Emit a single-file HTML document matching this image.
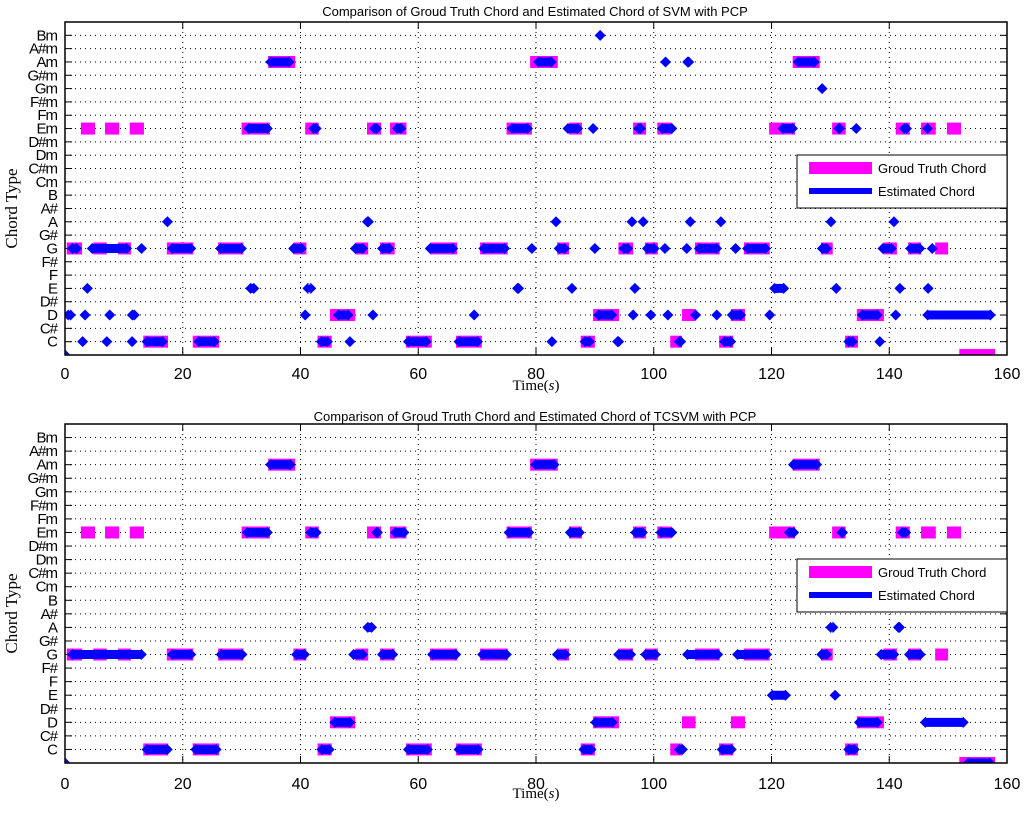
<!DOCTYPE html>
<html><head><meta charset="utf-8"><style>
html,body{margin:0;padding:0;background:#fff;}
svg{display:block;}
</style></head><body>
<svg id="chart" width="1024" height="813" viewBox="0 0 1024 813" xmlns="http://www.w3.org/2000/svg" font-family="Liberation Sans, sans-serif"></svg>
<script>
const chordLabels = ["","C","C#","D","D#","E","F","F#","G","G#","A","A#","B","Cm","C#m","Dm","D#m","Em","Fm","F#m","Gm","G#m","Am","A#m","Bm"];
const xTicks = [0,20,40,60,80,100,120,140,160];
const plotTitles = ["Comparison of Groud Truth Chord and Estimated Chord of SVM with PCP","Comparison of Groud Truth Chord and Estimated Chord of TCSVM with PCP"];
const groundTruth = [
[22,34.5,39.1],[22,79,83.7],[22,123.6,128.2],
[17,2.7,5.1],[17,6.8,9.2],[17,11,13.4],[17,30,34.8],[17,40.8,43.1],[17,51.3,53.7],[17,55.2,58],[17,75,79.3],[17,85.6,87.8],[17,96.5,98.7],[17,100.6,103],[17,119.6,124],[17,130.3,132.6],[17,141.1,143.5],[17,145.4,147.9],[17,149.8,152.2],
[8,0.3,2.9],[8,4.8,7.1],[8,9,11.2],[8,17.3,21.8],[8,26,30.3],[8,38.8,41],[8,49.3,51.5],[8,53.5,56],[8,62,66.6],[8,70.5,75.2],[8,83.6,85.6],[8,94,96.5],[8,98.5,100.7],[8,107,111.2],[8,115.3,119.7],[8,128.4,130.4],[8,139,141.3],[8,143.2,145.4],[8,147.8,150],
[3,45,49.3],[3,89.7,94.1],[3,104.8,107.1],[3,113.1,115.5],[3,134.5,139.1],
[1,13.3,17.5],[1,21.7,26.2],[1,42.9,45.3],[1,57.9,62.3],[1,66.4,70.8],[1,87.6,90],[1,102.8,104.8],[1,111.1,113.5],[1,132.5,134.7],
[0,151.9,158]];
const svmEstimate = [
[24,90.9,90.9],
[22,34,39],[22,79.5,83.5],[22,102,102],[22,105,106.7],[22,123.6,128.2],
[20,128.6,128.6],
[17,30.3,35.3],[17,41.3,43.6],[17,52,53.5],[17,55.5,58],[17,75,79.5],[17,84.5,88],[17,89.7,89.7],[17,96.5,98.7],[17,100.5,104],[17,121,124.5],[17,130.5,132.5],[17,134.4,134.4],[17,142,143.5],[17,146.5,146.5],
[10,17.4,17.4],[10,50.6,52.3],[10,83.4,83.4],[10,96.3,96.3],[10,98.2,98.2],[10,105.6,106.8],[10,111.4,111.4],[10,130.1,130.1],[10,140.3,141.3],
[8,0.3,2.9],[8,3.7,11.4],[8,12.4,13.6],[8,17.3,22.3],[8,25.5,30.9],[8,37.9,41.1],[8,48.4,51.5],[8,53,56],[8,61.1,66.8],[8,70.2,75.6],[8,79.3,79.3],[8,83,85.8],[8,90,90],[8,94,96.5],[8,98,101],[8,101.9,101.9],[8,105.6,105.6],[8,106.8,111.6],[8,113.3,114.5],[8,115,119.9],[8,127.7,130.3],[8,138,141.3],[8,142.7,146.1],[8,147.3,147.3],
[5,3.8,3.8],[5,30.6,33],[5,40.8,42.2],[5,76.1,77.8],[5,86.1,86.1],[5,96.8,96.8],[5,119.6,123],[5,131,131],[5,141.8,141.8],[5,146.6,146.6],
[3,0,1.5],[3,3.4,3.4],[3,7.6,7.6],[3,10.5,12.7],[3,40.8,40.8],[3,45.5,49],[3,52.3,52.3],[3,69.5,69.5],[3,89.7,93.8],[3,96.5,96.5],[3,99.5,99.5],[3,102.4,102.4],[3,107.1,107.1],[3,110.7,110.7],[3,112.4,115.7],[3,119.7,119.7],[3,134.5,138.9],[3,141.1,141.1],[3,145.6,158.1],
[1,3,3],[1,7.1,7.1],[1,11.4,11.4],[1,13,17.5],[1,21.8,26.3],[1,42.6,45.5],[1,48.4,48.4],[1,57.4,62.3],[1,66,71],[1,82.7,82.7],[1,87.4,90],[1,93.1,94.8],[1,103.4,105.5],[1,111.1,114],[1,132.2,134.7],[1,138.4,138.4],
[0,0,0]];
const tcsvmEstimate = [
[22,34,39.2],[22,79,84],[22,122.8,128.6],
[17,30,35.3],[17,40.8,43.6],[17,52,54],[17,55.2,58.5],[17,74.5,79.7],[17,84.9,88.3],[17,96,99],[17,100.3,104],[17,122.1,124.7],[17,131,133],[17,141.3,143.7],
[10,50.5,53],[10,129.5,131],[10,140.8,142.5],
[8,0.3,13.9],[8,17.3,22.3],[8,25.6,31],[8,38.4,41.6],[8,48.1,51.5],[8,53,56.6],[8,61.5,67.3],[8,70,75.9],[8,82.7,85.9],[8,93.1,97],[8,97.7,101.2],[8,104.8,111.8],[8,113.3,120.1],[8,127.6,130.3],[8,137.7,141.7],[8,142.5,146.2],
[5,119.2,123.3],[5,130.8,130.8],
[3,44.9,49.3],[3,89.2,93.9],[3,134,138.9],[3,145.2,153.5],
[1,13,18.3],[1,21.3,26.6],[1,42.7,45.8],[1,57.4,62.5],[1,66,71.1],[1,87.2,90.3],[1,103.4,105.8],[1,110.7,114.1],[1,132.2,135],
[0,0,0],[0,152.5,158]];

const NS="http://www.w3.org/2000/svg";
const svg=document.getElementById('chart');
function mk(tag,attrs,parent){const e=document.createElementNS(NS,tag);for(const k in attrs)e.setAttribute(k,attrs[k]);(parent||svg).appendChild(e);return e;}

const panels=[
 {top:22,bottom:355,title:plotTitles[0],titleY:16,tickY:379,xlabY:390,legTop:155,est:svmEstimate,name:'svm'},
 {top:424,bottom:763,title:plotTitles[1],titleY:421,tickY:789,xlabY:798,legTop:559,est:tcsvmEstimate,name:'tcsvm'}];
const L=65,R=1007;
panels.forEach(p=>{
  const g=mk('g',{});
  
  
  const xs=t=>L+(t-0)/160*(R-L);
  const ys=v=>p.bottom-v/25*(p.bottom-p.top);
  const clip=mk('clipPath',{id:'clip-'+p.name},g);
  mk('rect',{x:L,y:p.top,width:R-L,height:p.bottom-p.top},clip);
  for(let i=1;i<=24;i++){
    const ln=mk('line',{x1:L,x2:R,y1:ys(i),y2:ys(i),stroke:'#000','stroke-width':1,'stroke-dasharray':'1 4'},g);
    
    
    mk('line',{x1:L,x2:L+7,y1:ys(i),y2:ys(i),stroke:'#000'},g);
    mk('line',{x1:R-7,x2:R,y1:ys(i),y2:ys(i),stroke:'#000'},g);
    const t=mk('text',{x:57,y:ys(i)+5,'text-anchor':'end','font-size':15,'letter-spacing':'-1'},g);
    t.textContent=chordLabels[i];
    
    
  }
  xTicks.forEach(v=>{
    const x=xs(v);
    if(v>0&&v<160){
      const ln=mk('line',{x1:x,x2:x,y1:p.top,y2:p.bottom,stroke:'#000','stroke-dasharray':'1 4'},g);
      
      
    }
    mk('line',{x1:x,x2:x,y1:p.bottom,y2:p.bottom-7,stroke:'#000'},g);
    mk('line',{x1:x,x2:x,y1:p.top,y2:p.top+7,stroke:'#000'},g);
    const t=mk('text',{x:x,y:p.tickY,'text-anchor':'middle','font-size':16},g);
    t.textContent=v;
    
    
  });
  const dg=mk('g',{'clip-path':'url(#clip-'+p.name+')'},g);
  groundTruth.forEach(d=>{
    const r=mk('rect',{x:xs(d[1]),y:ys(d[0])-6,width:xs(d[2])-xs(d[1]),height:12,fill:'#ff00ff'},dg);
    
    
  });
  const dia=(cx,cy)=>`M${cx-5.5},${cy} L${cx},${cy-5.5} L${cx+5.5},${cy} L${cx},${cy+5.5} Z`;
  p.est.forEach(d=>{
    const y=ys(d[0]),x1=xs(d[1]),x2=xs(d[2]);
    let path;
    if(x2-x1<8){path=dia((x1+x2)/2,y);}
    else{path=dia(x1+5.5,y)+' '+dia(x2-5.5,y)+` M${x1+5},${y-4.5} L${x2-5},${y-4.5} L${x2-5},${y+4.5} L${x1+5},${y+4.5} Z`;}
    const e=mk('path',{d:path,fill:'#0000ff'},dg);
    
    
  });
  mk('rect',{x:L,y:p.top,width:R-L,height:p.bottom-p.top,fill:'none',stroke:'#000','stroke-width':1.5},g);
  const tt=mk('text',{x:535,y:p.titleY,'text-anchor':'middle','font-size':13},g);
  tt.textContent=p.title;
  
  
  const xl=mk('text',{x:536,y:p.xlabY,'text-anchor':'middle','font-size':15,'font-family':'Liberation Serif, serif'},g);
  xl.innerHTML='Time(<tspan font-style="italic">s</tspan>)';
  
  
  const cy=(p.top+p.bottom)/2+20;
  const yl=mk('text',{x:17,y:cy,'text-anchor':'middle','font-size':17,'font-family':'Liberation Serif, serif',transform:`rotate(-90 17 ${cy})`},g);
  yl.textContent='Chord Type';
  
  
  const lg=mk('g',{},g);
  
  
  mk('rect',{x:797,y:p.legTop,width:210,height:53,fill:'#fff',stroke:'#000','stroke-width':1},lg);
  mk('rect',{x:809,y:p.legTop+7,width:63,height:12,fill:'#ff00ff'},lg);
  const t1=mk('text',{x:878,y:p.legTop+18,'font-size':13},lg);
  t1.textContent='Groud Truth Chord';
  
  
  mk('rect',{x:809,y:p.legTop+33,width:63,height:6,fill:'#0000ff'},lg);
  const t2=mk('text',{x:878,y:p.legTop+41,'font-size':13},lg);
  t2.textContent='Estimated Chord';
  
  
});
</script>
</body></html>
